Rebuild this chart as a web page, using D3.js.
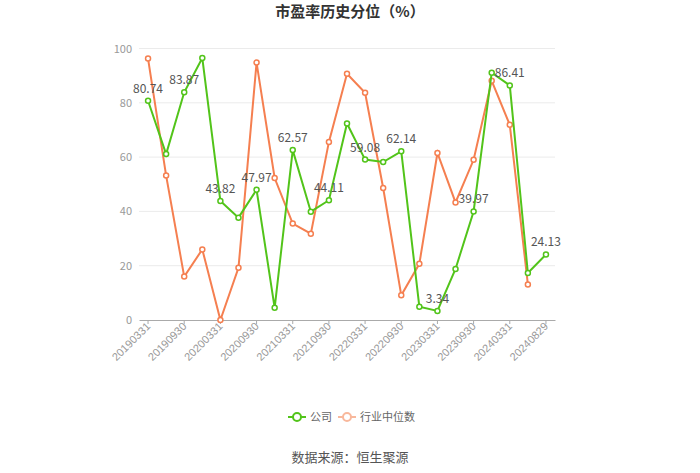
<!DOCTYPE html>
<html><head><meta charset="utf-8">
<script src="https://cdn.jsdelivr.net/npm/d3@7"></script>
<style>body{margin:0;background:#fff;}svg{display:block;font-family:"Noto Sans CJK SC","Noto Sans",sans-serif;}</style>
</head><body><svg id="c" width="700" height="473"></svg>
<script>
const dates = ["20190331","20190630","20190930","20191231","20200331","20200630","20200930","20201231","20210331","20210630","20210930","20211231","20220331","20220630","20220930","20221231","20230331","20230630","20230930","20231231","20240331","20240630","20240829"];
const company = [80.74,61.1,83.87,96.5,43.82,37.7,47.97,4.5,62.57,39.9,44.11,72.4,59.08,58.2,62.14,4.9,3.34,18.8,39.97,91.1,86.41,17.3,24.13];
const industry = [96.3,53.2,16.0,26.0,0,19.2,94.8,52.3,35.5,31.8,65.6,90.7,83.7,48.6,9.1,20.7,61.5,43.3,59.0,88.1,71.9,13.1,null];
const labelIdx = [0,2,4,6,8,10,12,14,16,18,20,22];
const yTicks = [0,20,40,60,80,100];
const GREEN = "#52c41a", ORANGE = "#f57f50";

const svg = d3.select("#c");
const L = 139, R = 555, T = 48.5, B = 320;
const x = d3.scaleBand().domain(dates).range([L, R]);
const y = d3.scaleLinear().domain([0,100]).range([B, T]);
const cx = d => x(d) + x.bandwidth()/2;

svg.append("text").attr("x",350).attr("y",17).attr("text-anchor","middle")
  .attr("font-size",15).attr("font-weight","bold").attr("fill","#333").text("市盈率历史分位（%）");

// grid
svg.append("g").selectAll("line").data(yTicks.filter(t=>t>0)).join("line")
  .attr("x1",L).attr("x2",R).attr("y1",d=>y(d)).attr("y2",d=>y(d))
  .attr("stroke","#ebebeb").attr("stroke-width",1);
svg.append("g").selectAll("text").data(yTicks).join("text")
  .attr("x",132).attr("y",d=>y(d)+4).attr("text-anchor","end")
  .attr("font-size",11).attr("fill","#999").text(d=>d);

// x axis
const xa = svg.append("g").attr("transform",`translate(0,${B})`)
  .call(d3.axisBottom(x).tickValues(dates.filter((d,i)=>i%2===0)).tickSize(4).tickSizeOuter(0).tickFormat(d=>d));
xa.select(".domain").attr("stroke","#aaa");
xa.selectAll(".tick line").attr("stroke","#aaa");
xa.selectAll(".tick text").attr("font-size",11).attr("fill","#999")
  .attr("text-anchor","end").attr("dx",0).attr("dy",0)
  .attr("transform","translate(3,7) rotate(-45)")
  .attr("y",0);

function series(data, color){
  const pts = dates.map((d,i)=>({d, v:data[i]})).filter(p=>p.v!=null);
  svg.append("path").datum(pts)
    .attr("d", d3.line().x(p=>cx(p.d)).y(p=>y(p.v)))
    .attr("fill","none").attr("stroke",color).attr("stroke-width",2);
  svg.append("g").selectAll("circle").data(pts).join("circle")
    .attr("cx",p=>cx(p.d)).attr("cy",p=>y(p.v)).attr("r",2.5)
    .attr("fill","#fff").attr("stroke",color).attr("stroke-width",1.5);
}
series(industry, ORANGE);
series(company, GREEN);

svg.append("g").selectAll("text").data(labelIdx).join("text")
  .attr("x",i=>cx(dates[i])).attr("y",i=>y(company[i])-8)
  .attr("text-anchor","middle").attr("font-size",12).attr("fill","#555")
  .text(i=>company[i].toFixed(2));

// legend
const lg = svg.append("g");
function legendItem(xp, color, txt){
  lg.append("line").attr("x1",xp).attr("x2",xp+18).attr("y1",417).attr("y2",417).attr("stroke",color).attr("stroke-width",2);
  lg.append("circle").attr("cx",xp+9).attr("cy",417).attr("r",4).attr("fill","#fff").attr("stroke",color).attr("stroke-width",2);
  lg.append("text").attr("x",xp+22).attr("y",421).attr("font-size",11).attr("fill","#666").text(txt);
}
legendItem(288, GREEN, "公司");
legendItem(338, "#f8b89c", "行业中位数");

svg.append("text").attr("x",350).attr("y",462).attr("text-anchor","middle")
  .attr("font-size",13).attr("fill","#555").text("数据来源：恒生聚源");
</script></body></html>
